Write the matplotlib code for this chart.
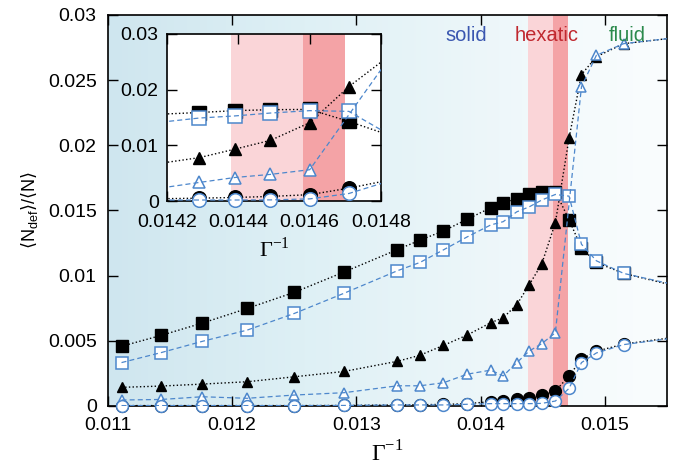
import numpy as np
import matplotlib
matplotlib.use('Agg')
import matplotlib.pyplot as plt
from matplotlib.colors import LinearSegmentedColormap
from matplotlib.ticker import FormatStrFormatter, FixedLocator

plt.rcParams['font.family'] = ['Liberation Sans', 'DejaVu Sans']

# Gamma^-1 values of the simulation points
x = [0.01111, 0.01143, 0.01176, 0.01212, 0.01250, 0.01290, 0.01333, 0.01351,
     0.01370, 0.01389, 0.01408, 0.01418, 0.01429, 0.01439, 0.01449, 0.01460,
     0.01471, 0.01481, 0.01493, 0.01515, 0.01570]

sq_fill = [0.00458, 0.00542, 0.00636, 0.00748, 0.00872, 0.01028, 0.01200, 0.01272,
           0.01343, 0.01432, 0.01521, 0.01559, 0.01589, 0.01623, 0.01640, 0.01645,
           0.01429, 0.01211, 0.01101, 0.01017, 0.00890]
sq_open = [0.00333, 0.00410, 0.00496, 0.00582, 0.00710, 0.00865, 0.01038, 0.01101,
           0.01198, 0.01297, 0.01389, 0.01414, 0.01490, 0.01528, 0.01580, 0.01623,
           0.01610, 0.01241, 0.01114, 0.01017, 0.00900]
tri_fill = [0.00143, 0.00153, 0.00168, 0.00186, 0.00224, 0.00265, 0.00343, 0.00389,
            0.00465, 0.00544, 0.00639, 0.00677, 0.00778, 0.00931, 0.01089, 0.01406,
            0.02055, 0.02543, 0.02680, 0.02780, 0.02840]
# open triangles have no point at 0.01471
tri_open = [0.00046, 0.00050, 0.00071, 0.00059, 0.00084, 0.00102, 0.00155, 0.00155,
            0.00178, 0.00244, 0.00275, 0.00231, 0.00333, 0.00422, 0.00478, 0.00562,
            np.nan, 0.02449, 0.02691, 0.02780, 0.02840]
circ_fill = [0.00003, 0.00003, 0.00003, 0.00003, 0.00003, 0.00004, 0.00008, 0.00010,
             0.00012, 0.00018, 0.00033, 0.00040, 0.00051, 0.00063, 0.00082, 0.00114,
             0.00231, 0.00359, 0.00420, 0.00475, 0.00545]
circ_open = [0.00003, 0.00003, 0.00003, 0.00003, 0.00003, 0.00004, 0.00008, 0.00008,
             0.00008, 0.00013, 0.00018, 0.00018, 0.00018, 0.00018, 0.00020, 0.00038,
             0.00135, 0.00333, 0.00407, 0.00471, 0.00540]

hex_light = (0.01438, 0.01458)
hex_dark = (0.01458, 0.01470)

blue = '#4d87cc'
pink_l = '#fad5d8'
pink_d = '#f4a3a6'

fig = plt.figure(figsize=(6.74, 4.68), dpi=100)
ax = fig.add_axes([0.160, 0.1325, 0.830, 0.8355])

# background gradient
cmap = LinearSegmentedColormap.from_list('bg', [(0.0, '#cfe6ef'), (0.35, '#def0f5'),
                                                 (0.7, '#eef7fa'), (0.82, '#f4fafc'),
                                                 (1.0, '#fafdfe')])
grad = np.linspace(0, 1, 256).reshape(1, -1)
ax.imshow(grad, extent=[0.011, 0.0155, 0, 0.03], aspect='auto', cmap=cmap, zorder=0)
ax.axvspan(*hex_light, color=pink_l, lw=0, zorder=0.5)
ax.axvspan(*hex_dark, color=pink_d, lw=0, zorder=0.5)

xa = np.array(x)
MS = {'s': 8.5, '^': 7.5, 'o': 8.5}


def draw(a, xmin, xmax, scale):
    filled = [(sq_fill, 's'), (tri_fill, '^'), (circ_fill, 'o')]
    opened = [(sq_open, 's'), (tri_open, '^'), (circ_open, 'o')]
    for ys, m in filled:
        ya = np.array(ys, dtype=float)
        a.plot(xa, ya, ls=':', color='k', lw=1.0, zorder=2)
        inside = (xa > xmin) & (xa < xmax)
        a.plot(xa[inside], ya[inside], ls='none', marker=m, ms=MS[m] * scale,
               mec='k', mfc='k', mew=1.0, clip_on=False, zorder=2.5)
    for ys, m in opened:
        ya = np.array(ys, dtype=float)
        ok = ~np.isnan(ya)
        inside = ok & (xa > xmin) & (xa < xmax)
        a.plot(xa[inside], ya[inside], ls='none', marker=m, ms=MS[m] * scale,
               mec=blue, mfc='white', mew=1.1, clip_on=False, zorder=3)
        a.plot(xa[ok], ya[ok], ls='--', color=blue, lw=0.9, dashes=(4, 2.5), zorder=3.5)


draw(ax, 0.0109, 0.0155, 1.0)

ax.set_xlim(0.011, 0.0155)
ax.set_ylim(0, 0.03)
ax.xaxis.set_major_locator(FixedLocator([0.011, 0.012, 0.013, 0.014, 0.015]))
ax.yaxis.set_major_locator(FixedLocator([0, 0.005, 0.01, 0.015, 0.02, 0.025, 0.03]))
ax.xaxis.set_major_formatter(FormatStrFormatter('%g'))
ax.yaxis.set_major_formatter(FormatStrFormatter('%g'))
ax.tick_params(direction='in', top=True, right=True, labelsize=14, length=7, width=1,
               pad=8)
for s in ax.spines.values():
    s.set_linewidth(1.2)
ax.set_xlabel('Γ$^{\\mathregular{-1}}$', fontsize=17, family='Liberation Serif',
              labelpad=5)
ax.set_ylabel(r'$\langle$N$_{\mathregular{def}}\rangle$/$\langle$N$\rangle$', fontsize=13,
              labelpad=6)

ax.text(0.01388, 0.02846, 'solid', color='#3a56b0', fontsize=14.5, ha='center', va='center', zorder=4)
ax.text(0.01453, 0.02846, 'hexatic', color='#c0282f', fontsize=14.5, ha='center', va='center', zorder=4)
ax.text(0.01518, 0.02846, 'fluid', color='#2b8a4c', fontsize=14.5, ha='center', va='center', zorder=4)

# inset
ins = fig.add_axes([0.2478, 0.5705, 0.3175, 0.3569], zorder=5)
ins.set_facecolor('white')
ins.axvspan(*hex_light, color=pink_l, lw=0, zorder=0.5)
ins.axvspan(*hex_dark, color=pink_d, lw=0, zorder=0.5)
draw(ins, 0.0142, 0.0148, 1.15)
ins.set_xlim(0.0142, 0.0148)
ins.set_ylim(0, 0.03)
ins.xaxis.set_major_locator(FixedLocator([0.0142, 0.0144, 0.0146, 0.0148]))
ins.yaxis.set_major_locator(FixedLocator([0, 0.01, 0.02, 0.03]))
ins.xaxis.set_major_formatter(FormatStrFormatter('%g'))
ins.yaxis.set_major_formatter(FormatStrFormatter('%g'))
ins.tick_params(direction='in', top=True, right=True, labelsize=14, length=7, width=1,
                pad=6)
ins.tick_params(axis='x', pad=9)
for s in ins.spines.values():
    s.set_linewidth(1.2)
ins.set_xlabel('Γ$^{\\mathregular{-1}}$', fontsize=16, family='Liberation Serif',
               labelpad=5)

fig.savefig('out.png', dpi=100)
